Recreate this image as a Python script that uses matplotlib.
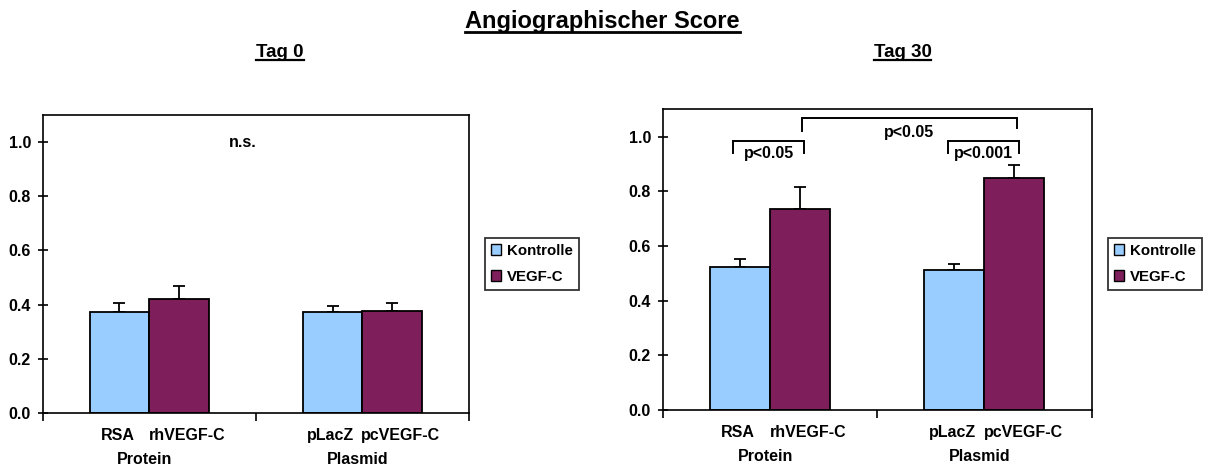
import matplotlib

matplotlib.use("Agg")
import matplotlib.pyplot as plt
from matplotlib.lines import Line2D
from matplotlib.patches import Patch
import numpy as np

plt.rcParams["font.family"] = ["Liberation Sans", "DejaVu Sans"]
plt.rcParams["font.weight"] = "bold"

# data
groups = ["Protein", "Plasmid"]
control_labels = ["RSA", "pLacZ"]
vegf_labels = ["rhVEGF-C", "pcVEGF-C"]
series_names = ["Kontrolle", "VEGF-C"]

day0_control = [0.372, 0.372]
day0_control_err = [0.035, 0.022]
day0_vegf = [0.422, 0.377]
day0_vegf_err = [0.045, 0.030]

day30_control = [0.524, 0.512]
day30_control_err = [0.027, 0.022]
day30_vegf = [0.737, 0.848]
day30_vegf_err = [0.080, 0.048]

yticks = [0.0, 0.2, 0.4, 0.6, 0.8, 1.0]

CONTROL_COLOR = "#99CCFF"
VEGF_COLOR = "#7E1F5C"
W = 0.28
FS = 11.5


def draw_panel(ax, ctrl, ctrl_err, vegf, vegf_err):
    x = np.arange(len(groups))
    ax.bar(x - W / 2, ctrl, W, color=CONTROL_COLOR, edgecolor="black", linewidth=1.3, zorder=2)
    ax.bar(x + W / 2, vegf, W, color=VEGF_COLOR, edgecolor="black", linewidth=1.3, zorder=2)
    ax.errorbar(x - W / 2, ctrl, yerr=[np.zeros(len(ctrl)), ctrl_err], fmt="none",
                ecolor="black", elinewidth=1.3, capsize=4, capthick=1.3, zorder=1)
    ax.errorbar(x + W / 2, vegf, yerr=[np.zeros(len(vegf)), vegf_err], fmt="none",
                ecolor="black", elinewidth=1.3, capsize=4, capthick=1.3, zorder=1)
    ax.set_xlim(-0.5, len(groups) - 0.5)
    ax.set_ylim(0, 1.1)
    ax.set_yticks(yticks)
    ax.set_yticklabels([f"{v:.1f}" for v in yticks], fontsize=FS, fontweight="bold")
    ax.tick_params(axis="y", direction="inout", length=7, width=1.2, pad=5)
    ax.set_xticks([])
    ax.set_xticks(np.arange(len(groups) + 1) - 0.5, minor=True)
    ax.tick_params(axis="x", which="minor", direction="out", length=6, width=1.2)
    for s in ax.spines.values():
        s.set_linewidth(1.2)
    # category labels below the axis
    tr = ax.get_xaxis_transform()
    for i in x:
        ax.text(i - W / 2 - 0.01, -0.075, control_labels[i], transform=tr, ha="center", va="center",
                fontsize=FS, fontweight="bold")
        ax.text(i + W / 2 + 0.04, -0.075, vegf_labels[i], transform=tr, ha="center", va="center",
                fontsize=FS, fontweight="bold")
        ax.text(i - 0.02, -0.155, groups[i], transform=tr, ha="center", va="center",
                fontsize=FS, fontweight="bold")
    handles = [Patch(facecolor=CONTROL_COLOR, edgecolor="black", linewidth=1),
               Patch(facecolor=VEGF_COLOR, edgecolor="black", linewidth=1)]
    return handles


def bracket(ax, x0, x1, y, leg0, leg1, label, ty):
    ax.plot([x0, x0, x1, x1], [y - leg0, y, y, y - leg1], color="black", lw=1.4, zorder=3,
            solid_joinstyle="miter")
    ax.text((x0 + x1) / 2, ty, label, ha="center", va="center", fontsize=FS, fontweight="bold")


fig = plt.figure(figsize=(12.1, 4.7), dpi=100)
ax0 = fig.add_axes([0.0353, 0.1213, 0.3523, 0.634])
ax1 = fig.add_axes([0.5477, 0.1277, 0.3545, 0.6397])

h = draw_panel(ax0, day0_control, day0_control_err, day0_vegf, day0_vegf_err)
draw_panel(ax1, day30_control, day30_control_err, day30_vegf, day30_vegf_err)

ax0.text(0.44, 1.0, "n.s.", ha="center", va="center", fontsize=FS, fontweight="bold")

bracket(ax1, -W / 2 - 0.03, W / 2 + 0.02, 0.985, 0.045, 0.045, "p<0.05", 0.94)
bracket(ax1, W / 2 + 0.01, 1 + W / 2 + 0.01, 1.067, 0.045, 0.037, "p<0.05", 1.017)
bracket(ax1, 1 - W / 2 - 0.03, 1 + W / 2 + 0.02, 0.985, 0.045, 0.045, "p<0.001", 0.94)

for lx in (0.4008, 0.9157):
    fig.legend(h, series_names, loc="center left", bbox_to_anchor=(lx, 0.4383),
               prop={"size": 10.8, "weight": "bold"}, frameon=True, fancybox=False,
               edgecolor="black", handlelength=0.7, handleheight=0.7, handletextpad=0.35,
               borderpad=0.4, labelspacing=0.8, borderaxespad=0).get_frame().set_linewidth(1.3)

titles = [
    ("Angiographischer Score", 0.498, 0.955, 17),
    ("Tag 0", 0.2314, 0.888, 13.5),
    ("Tag 30", 0.7459, 0.888, 13.5),
]
texts = []
for s, tx, ty, fs in titles:
    texts.append(fig.text(tx, ty, s, ha="center", va="center", fontsize=fs, fontweight="bold"))

# underline the titles
fig.canvas.draw()
inv = fig.transFigure.inverted()
for t, (_, _, _, fs) in zip(texts, titles):
    bb = t.get_window_extent()
    (x0, y0), (x1, _) = inv.transform([[bb.x0, bb.y0], [bb.x1, bb.y1]])
    fig.add_artist(Line2D([x0, x1], [y0 + 0.002, y0 + 0.002], transform=fig.transFigure,
                          color="black", lw=2.0 if fs > 15 else 1.6))

fig.savefig("out.png", dpi=100)
